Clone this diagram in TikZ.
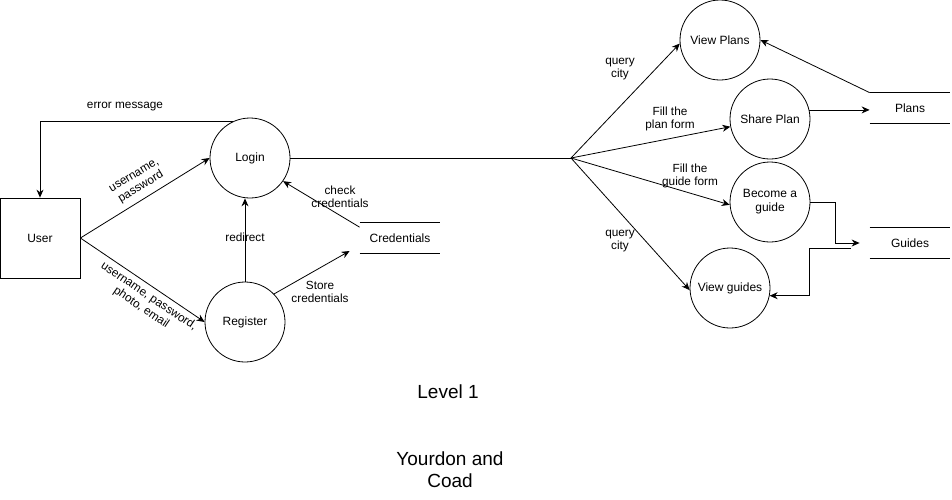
\documentclass[tikz,border=0pt]{standalone}
\usepackage{fontspec}
\setmainfont{Liberation Sans}
\usetikzlibrary{positioning, arrows.meta, calc}

\begin{document}
\begin{tikzpicture}[x=1pt, y=-1pt, line width=0.8pt,
proc/.style={draw, circle, minimum size=80pt, inner sep=0pt, align=center, font=\fontsize{12}{14}\selectfont},
entity/.style={draw, rectangle, minimum size=80pt, inner sep=0pt, font=\fontsize{12}{14}\selectfont},
store/.style={minimum width=80pt, minimum height=30pt, inner sep=0pt, font=\fontsize{12}{14}\selectfont},
flow/.style={-{Stealth[length=8pt, width=7pt]}},
lbl/.style={align=center, font=\fontsize{11.8}{13.5}\selectfont, inner sep=0pt},
title/.style={align=center, font=\fontsize{19}{22}\selectfont}]
\useasboundingbox (0,0) rectangle (952,499);
% external entity and processes
\node[entity] (user) at (40,238) {User};
\node[proc] (login) at (250,158) {Login};
\node[proc] (register) at (245,322) {Register};
\node[proc] (viewplans) at (720,40) {View Plans};
\node[proc] (shareplan) at (770,119) {Share Plan};
\node[proc] (becomeguide) at (770,202) {Become a\\guide};
\node[proc] (viewguides) at (730,288) {View guides};
% data stores
\node[store] (cred) at (400,238) {Credentials};
\node[store] (plans) at (910,108) {Plans};
\node[store] (guides) at (910,243) {Guides};
\foreach \s in {cred, plans, guides} \draw (\s.north west)--(\s.north east) (\s.south west)--(\s.south east);
\coordinate (junc) at (571,158);
\coordinate (credin) at ($(cred.west)+(-10,13)$);
\coordinate (gin) at ($(guides.west)+(-10,0)$);
\coordinate (gout) at ($(guides.west)+(-19,5)$);
% flows
\draw[flow] (login.115) -| (user.north);
\draw[flow] (user.east)--(login.west);
\draw[flow] (user.east)--(register.west);
\draw[flow] (register.north)--(register.north|-login.south);
\draw[flow] (cred.165)--(login.-35);
\draw[flow] (register.44)--(credin);
\draw (login.east)--(junc);
\draw[flow] (junc)--(viewplans.185); \draw[flow] (junc)--(shareplan.191);
\draw[flow] (junc)--(becomeguide.184); \draw[flow] (junc)--(viewguides.183);
\draw[flow] (plans.north west)--(viewplans.east);
\draw[flow] (shareplan.13)--(shareplan.13-|plans.west);
\draw[flow] (becomeguide.east)--++(25,0) |- (gin);
\draw[flow] (gout)--++(-41,0) |- (viewguides.-11);
% labels
\node[lbl] (lerr) at (125,107) {error message};
\node[lbl, rotate=31] (lup) at (138,182) {username,\\password};
\node[lbl, rotate=-34] (lreg) at (145,302) {username, password,\\photo, email};
\node[lbl] (lred) at (245,237) {redirect};
\node[lbl] (lchk) at (340,197) {check\\credentials};
\node[lbl] (lsto) at (320,292) {Store\\credentials};
\node[lbl] (lq1) at (620,69) {query\\city};
\node[lbl] (lfp) at (670,119) {Fill the\\plan form};
\node[lbl] (lfg) at (690,176) {Fill the\\guide form};
\node[lbl] (lq2) at (620,241) {query\\city};
\node[title] (lvl) at (448,392) {Level 1};
\node[title] (yc) at (450,470) {Yourdon and\\Coad};
\end{tikzpicture}
\end{document}
